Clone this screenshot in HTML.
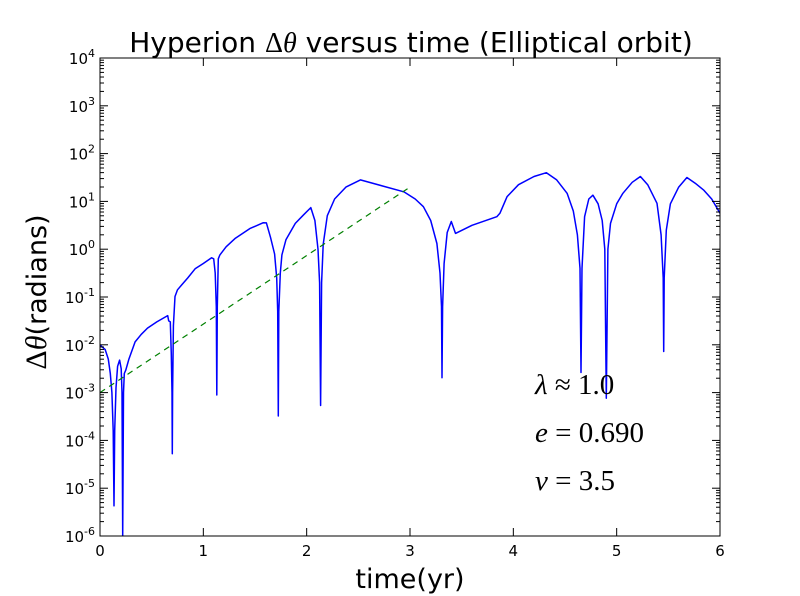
<!DOCTYPE html>
<html><head><meta charset="utf-8"><style>
html,body{margin:0;padding:0;background:#fff;}
svg{display:block;}
.sans{font-family:"DejaVu Sans","Liberation Sans",sans-serif;}
.serif{font-family:"Liberation Serif",serif;}
</style></head><body>
<svg id="chart" width="800" height="596" viewBox="0 0 800 596">
<rect x="0" y="0" width="800" height="596" fill="#fff"/>
<text class="sans" x="411" y="52" font-size="28" text-anchor="middle">Hyperion <tspan class="serif">Δ</tspan><tspan class="serif" font-style="italic">θ</tspan> versus time (Elliptical orbit)</text>
<text class="sans" x="410" y="588" font-size="27" text-anchor="middle">time(yr)</text>
<text class="sans" transform="translate(46,292) rotate(-90)" font-size="27" text-anchor="middle"><tspan class="serif" font-size="30">Δ</tspan><tspan class="serif" font-size="30" font-style="italic">θ</tspan>(radians)</text>
<g id="plot"></g>
<g class="serif" font-size="29">
<text class="serif" x="535" y="394"><tspan font-style="italic">λ</tspan> ≈ 1.0</text>
<text class="serif" x="535" y="442"><tspan font-style="italic">e</tspan> = 0.690</text>
<text class="serif" x="535" y="490"><tspan font-style="italic">v</tspan> = 3.5</text>
</g>
</svg>
<script>
const xTicks = [0,1,2,3,4,5,6];
const yExps = [-6,-5,-4,-3,-2,-1,0,1,2,3,4];
const times = [0.0,0.01,0.05,0.08,0.10,0.115,0.128,0.135,0.142,0.155,0.17,0.19,0.205,0.213,0.22,0.227,0.235,0.25,0.28,0.34,0.4,0.46,0.55,0.655,0.665,0.68,0.69,0.697,0.70,0.703,0.71,0.726,0.75,0.79,0.85,0.92,1.0,1.08,1.10,1.115,1.125,1.13,1.135,1.145,1.16,1.22,1.31,1.45,1.58,1.61,1.65,1.69,1.71,1.72,1.725,1.73,1.745,1.76,1.8,1.89,1.97,2.04,2.08,2.11,2.125,2.135,2.145,2.16,2.2,2.27,2.38,2.52,2.94,3.05,3.13,3.2,3.26,3.29,3.305,3.31,3.315,3.33,3.36,3.40,3.44,3.6,3.84,3.87,3.94,4.05,4.2,4.32,4.42,4.52,4.58,4.62,4.645,4.655,4.665,4.69,4.73,4.77,4.82,4.86,4.885,4.9,4.915,4.94,5.0,5.06,5.15,5.23,5.3,5.39,5.43,5.45,5.455,5.46,5.48,5.52,5.6,5.68,5.76,5.84,5.92,6.0];
const logVals = [-2.02,-2.02,-2.1,-2.3,-2.6,-3.0,-3.8,-5.37,-3.8,-2.9,-2.45,-2.32,-2.5,-3.0,-6.0,-3.0,-2.6,-2.53,-2.3,-1.94,-1.78,-1.65,-1.52,-1.39,-1.50,-1.52,-2.2,-3.0,-4.28,-3.0,-1.6,-0.99,-0.85,-0.75,-0.6,-0.41,-0.3,-0.18,-0.2,-0.5,-1.2,-3.05,-1.2,-0.2,-0.12,0.05,0.23,0.43,0.555,0.55,0.25,-0.1,-0.6,-1.3,-3.49,-1.3,-0.5,-0.12,0.2,0.54,0.72,0.87,0.6,0.0,-0.7,-3.27,-0.7,0.1,0.7,1.05,1.3,1.45,1.20,1.05,0.89,0.6,0.12,-0.5,-1.2,-2.69,-1.2,-0.3,0.35,0.58,0.33,0.5,0.68,0.75,1.10,1.35,1.52,1.60,1.45,1.17,0.8,0.3,-0.4,-2.58,-0.4,0.68,1.05,1.13,0.95,0.6,0.0,-3.12,0.0,0.54,0.95,1.17,1.4,1.52,1.35,0.96,0.3,-0.6,-2.14,-0.6,0.4,0.95,1.3,1.50,1.38,1.24,1.05,0.75];
const fitTimes = [0,3];
const fitLogVals = [-3,1.3];

const L=100,R=720,T=58,B=536;
const xs=t=>L+(t-0)/6*(R-L);
const ys=lv=>T+(4-lv)/10*(B-T);
const NS='http://www.w3.org/2000/svg';
const g=document.getElementById('plot');
function mk(tag,attrs){const e=document.createElementNS(NS,tag);for(const k in attrs)e.setAttribute(k,attrs[k]);g.appendChild(e);return e;}

const cp=mk('clipPath',{id:'clip'});
const cr=document.createElementNS(NS,'rect');cr.setAttribute('x',L);cr.setAttribute('y',T);cr.setAttribute('width',R-L);cr.setAttribute('height',B-T);cp.appendChild(cr);
const line=mk('polyline',{points:times.map((t,i)=>xs(t).toFixed(1)+','+ys(logVals[i]).toFixed(1)).join(' '),fill:'none',stroke:'#0000ff','stroke-width':1.5,'stroke-linejoin':'round','clip-path':'url(#clip)'});


const fit=mk('polyline',{points:fitTimes.map((t,i)=>xs(t)+','+ys(fitLogVals[i])).join(' '),fill:'none',stroke:'#008000','stroke-width':1.2,'stroke-dasharray':'6,5'});



const fr=mk('rect',{x:L,y:T,width:R-L,height:B-T,fill:'none',stroke:'#000','stroke-width':1});



xTicks.forEach(v=>{
  const x=xs(v);
  mk('line',{x1:x,y1:B,x2:x,y2:B-8,stroke:'#000'});
  mk('line',{x1:x,y1:T,x2:x,y2:T+8,stroke:'#000'});
  const tx=mk('text',{x:x,y:B+20,'font-size':15,'text-anchor':'middle','class':'sans'});
  tx.textContent=v;
  
  
});
yExps.forEach(e=>{
  const y=ys(e);
  mk('line',{x1:L,y1:y,x2:L+8,y2:y,stroke:'#000'});
  mk('line',{x1:R,y1:y,x2:R-8,y2:y,stroke:'#000'});
  if(e<4){for(let m=2;m<10;m++){const ym=ys(e+Math.log10(m));
    mk('line',{x1:L,y1:ym,x2:L+4,y2:ym,stroke:'#000'});
    mk('line',{x1:R,y1:ym,x2:R-4,y2:ym,stroke:'#000'});}}
  const tx=mk('text',{x:L-5,y:y+6,'font-size':15,'text-anchor':'end','class':'sans'});
  const a=document.createElementNS(NS,'tspan');a.textContent='10';tx.appendChild(a);
  const s=document.createElementNS(NS,'tspan');s.setAttribute('dy','-7');s.setAttribute('font-size','11');s.textContent=String(e);tx.appendChild(s);
  
  
});
</script>
</body></html>
